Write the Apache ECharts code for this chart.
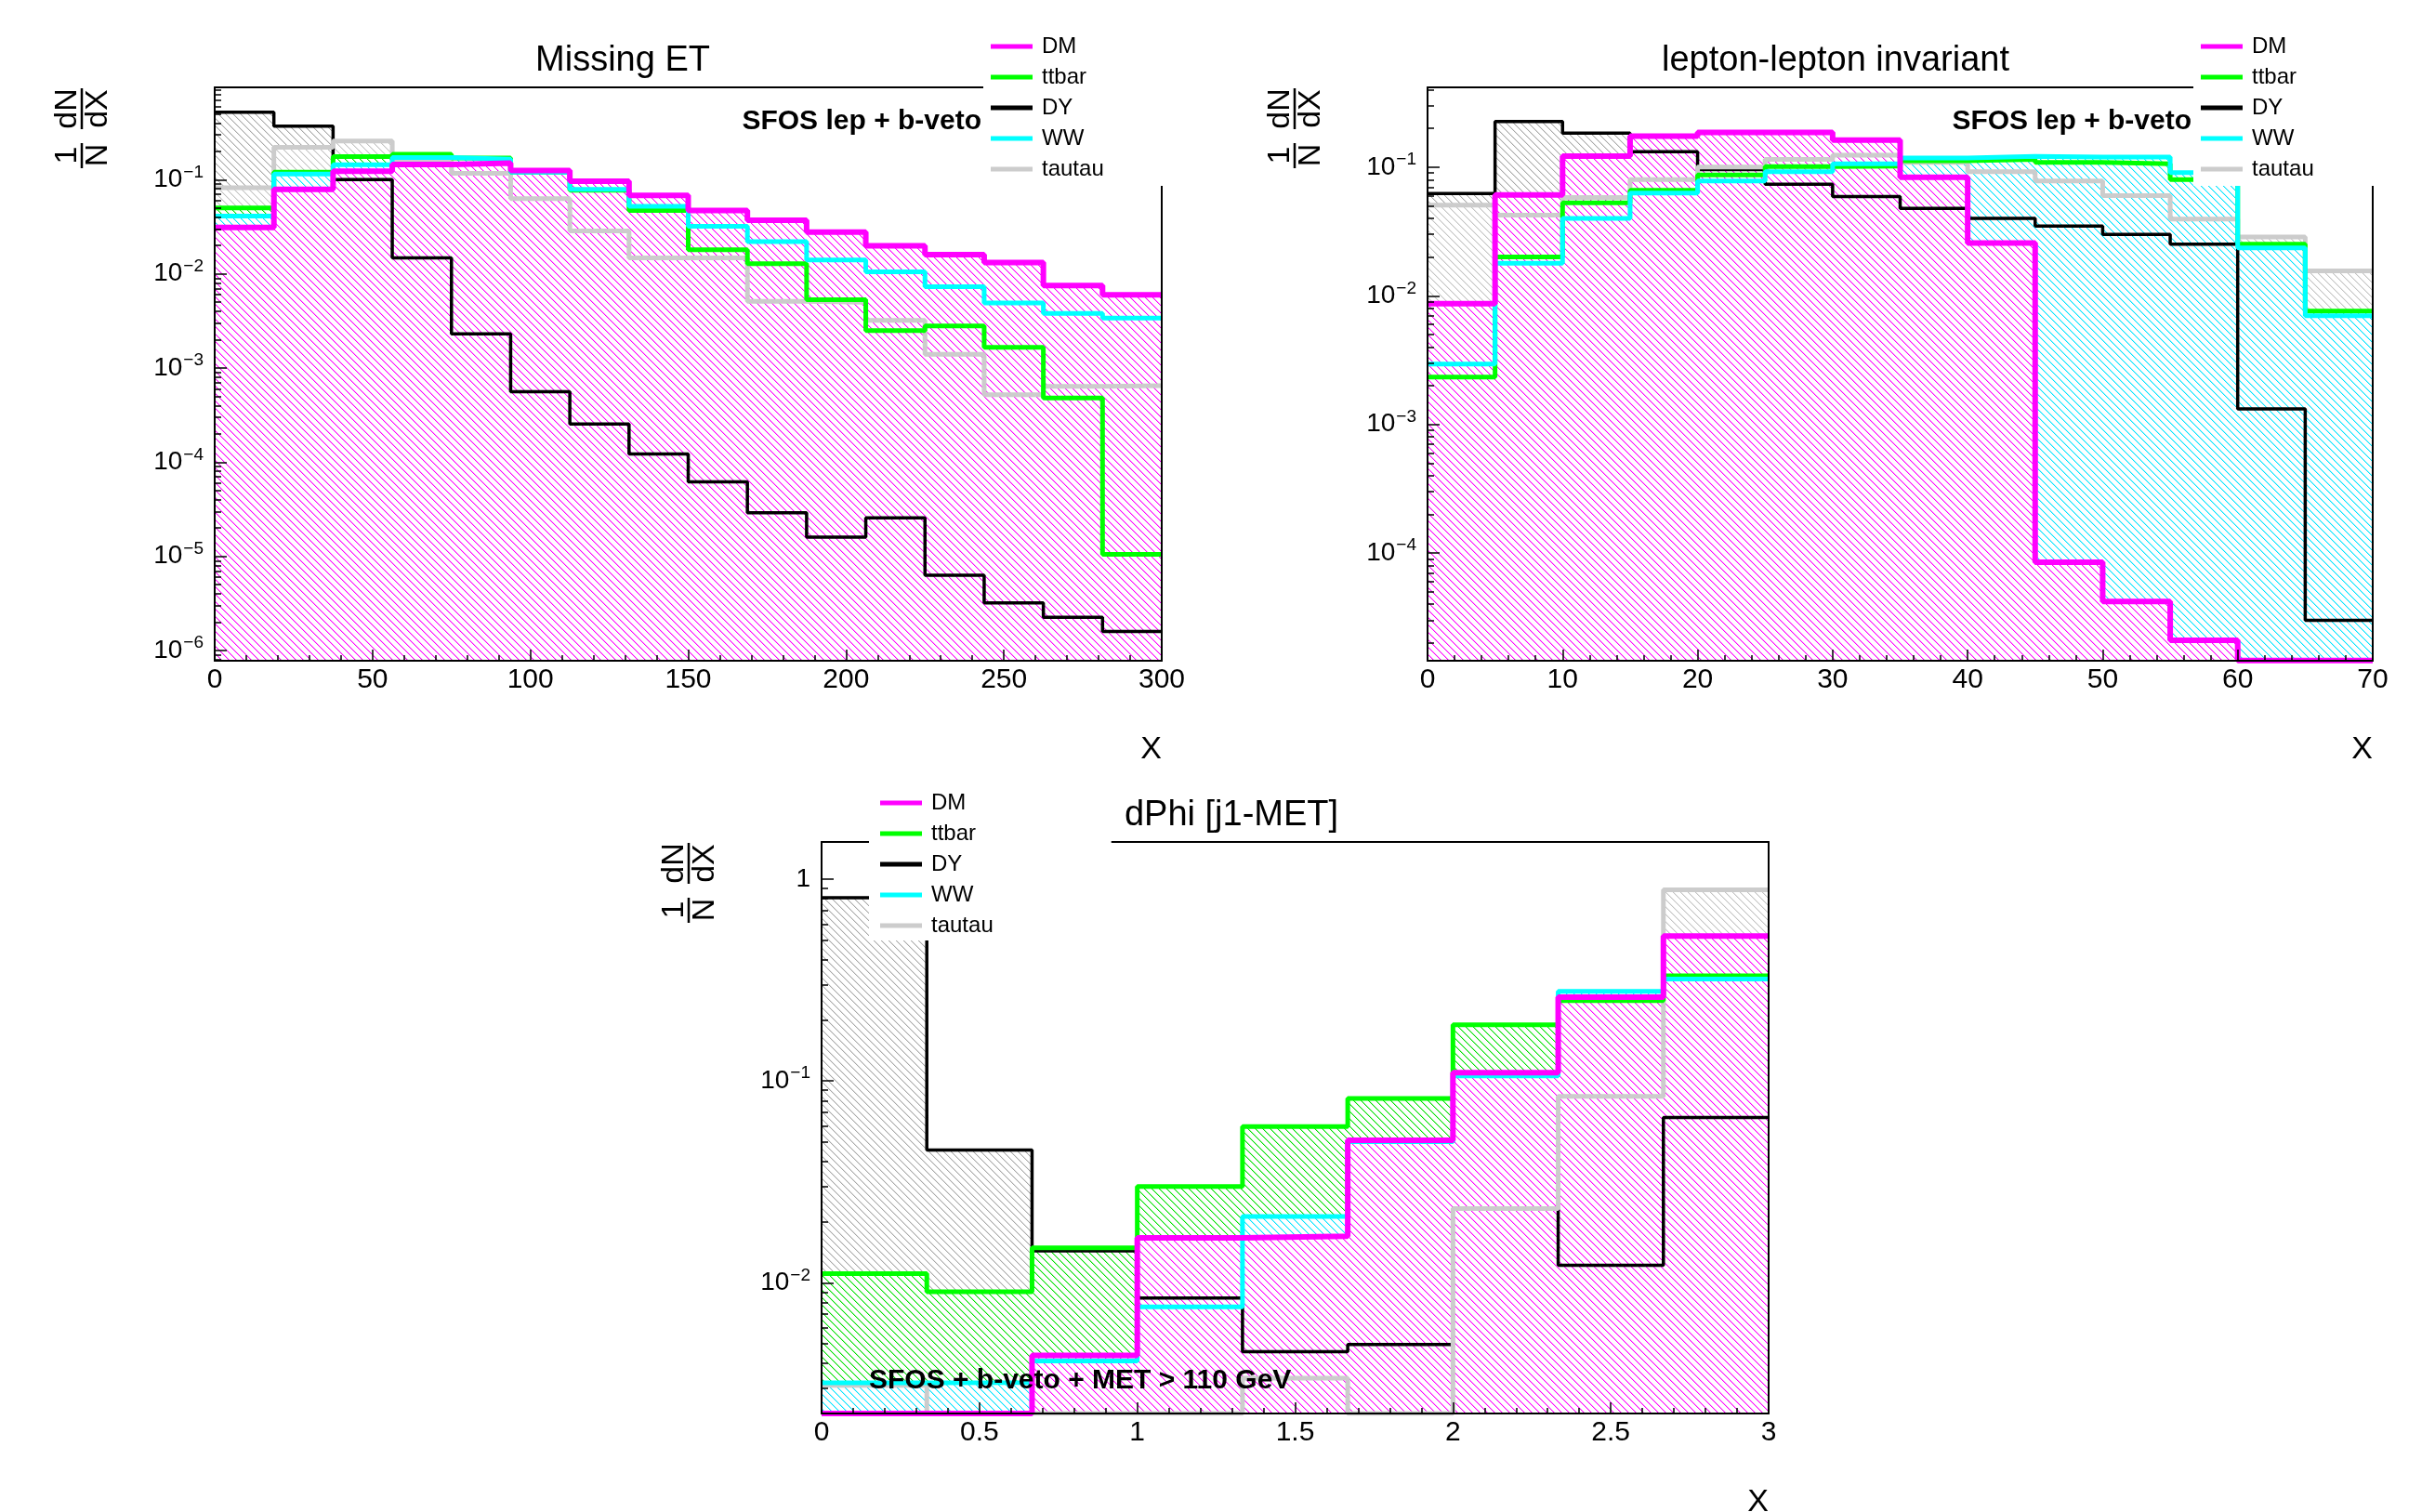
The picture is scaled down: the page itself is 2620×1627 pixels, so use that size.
<!DOCTYPE html>
<html>
<head>
<meta charset="utf-8">
<script src="https://cdn.jsdelivr.net/npm/echarts@6/dist/echarts.min.js"></script>
<style>
html, body { margin: 0; padding: 0; background: #fff; }
#chart-container { width: 2620px; height: 1627px; }
</style>
</head>
<body>
<div id="chart-container"></div>
<script>
let FONT = '"Liberation Sans", Arial, Helvetica, sans-serif';

// binning: [low, high, nbins]
let metBins = [0, 300, 16];
let mllBins = [0, 70, 14];
let dphiBins = [0, 3, 9];

// Missing ET
let metDM = [0.031, 0.079, 0.123, 0.145, 0.15, 0.125, 0.096, 0.068, 0.047, 0.037, 0.0277, 0.0198, 0.016, 0.0132, 0.0075, 0.006];
let metTtbar = [0.05, 0.12, 0.176, 0.186, 0.17, 0.12, 0.077, 0.047, 0.018, 0.0128, 0.0053, 0.0025, 0.0028, 0.00166, 0.00048, 1.05e-5];
let metDY = [0.52, 0.37, 0.1, 0.0148, 0.0023, 0.00056, 0.000255, 0.000122, 6.2e-5, 2.9e-5, 1.6e-5, 2.56e-5, 6.3e-6, 3.2e-6, 2.25e-6, 1.6e-6];
let metWW = [0.041, 0.115, 0.144, 0.172, 0.165, 0.12, 0.079, 0.052, 0.032, 0.022, 0.014, 0.0105, 0.0073, 0.0049, 0.0038, 0.0034];
let metTautau = [0.082, 0.22, 0.257, 0.16, 0.117, 0.063, 0.0285, 0.0148, 0.0148, 0.0051, 0.005, 0.0032, 0.0014, 0.00052, 0.00064, 0.00065];

// lepton-lepton invariant
let mllDM = [0.0087, 0.0607, 0.1216, 0.174, 0.186, 0.186, 0.162, 0.0833, 0.0257, 8.5e-5, 4.2e-5, 2.1e-5, 1.46e-5, 1.46e-5];
let mllTtbar = [0.00233, 0.02, 0.0528, 0.066, 0.087, 0.101, 0.102, 0.112, 0.115, 0.109, 0.106, 0.08, 0.0252, 0.0076];
let mllDY = [0.0624, 0.226, 0.184, 0.132, 0.0957, 0.0736, 0.059, 0.0478, 0.04, 0.0348, 0.03, 0.0252, 0.00132, 3.0e-5];
let mllWW = [0.00295, 0.0179, 0.04, 0.063, 0.078, 0.092, 0.106, 0.118, 0.1215, 0.12, 0.12, 0.0905, 0.0236, 0.007];
let mllTautau = [0.0506, 0.0423, 0.058, 0.08, 0.1, 0.115, 0.124, 0.109, 0.092, 0.078, 0.06, 0.0394, 0.0287, 0.0156];

// dPhi [j1-MET]
let dphiDM = [0.00225, 0.00225, 0.00436, 0.0167, 0.017, 0.0508, 0.11, 0.26, 0.523];
let dphiTtbar = [0.0111, 0.00903, 0.0149, 0.03, 0.0594, 0.082, 0.19, 0.25, 0.332];
let dphiDY = [0.81, 0.0455, 0.0144, 0.0084, 0.00456, 0.00494, 0.0233, 0.0122, 0.066];
let dphiWW = [0.00319, 0.0032, 0.0041, 0.0076, 0.0213, 0.05, 0.106, 0.278, 0.32];
let dphiTautau = [0.0031, 0.00225, 0.00225, 0.00225, 0.00337, 0.00225, 0.0233, 0.084, 0.887];

// axis ranges and major ticks
let metY = [7.8e-7, 0.955];
let mllY = [1.456e-5, 0.417];
let dphiY = [0.00225, 1.53];
let metXTicks = 50;
let mllXTicks = 10;
let dphiXTicks = 0.5;
let metYTicks = [1e-6, 1e-5, 1e-4, 1e-3, 1e-2, 1e-1];
let mllYTicks = [1e-4, 1e-3, 1e-2, 1e-1];
let dphiYTicks = [1e-2, 1e-1, 1];

let titles = ['Missing ET', 'lepton-lepton invariant', 'dPhi [j1-MET]'];
let cutLabels = ['SFOS lep + b-veto', 'SFOS lep + b-veto', 'SFOS + b-veto + MET > 110 GeV'];

let drawOrder = ['DY', 'tautau', 'ttbar', 'WW', 'DM'];
let legendOrder = ['DM', 'ttbar', 'DY', 'WW', 'tautau'];
let lineColors = { DM: '#ff00ff', ttbar: '#00ff00', DY: '#000000', WW: '#00ffff', tautau: '#cccccc' };
// [core pixel, soft neighbour pixel]
let hatchColors = {
    DM: ['#ff00ff', '#ffa6ff'],
    ttbar: ['#00e000', '#a6f5a6'],
    DY: ['#a8a8a8', '#e2e2e2'],
    WW: ['#00e5ff', '#a6f3ff'],
    tautau: ['#c4c4c4', '#e8e8e8'],
};
let lineWidths = { DM: 6, ttbar: 5, DY: 3.5, WW: 5, tautau: 5 };

let panels = [
    { bins: metBins, y: metY, xStep: metXTicks, yTicks: metYTicks,
      h: { DM: metDM, ttbar: metTtbar, DY: metDY, WW: metWW, tautau: metTautau } },
    { bins: mllBins, y: mllY, xStep: mllXTicks, yTicks: mllYTicks,
      h: { DM: mllDM, ttbar: mllTtbar, DY: mllDY, WW: mllWW, tautau: mllTautau } },
    { bins: dphiBins, y: dphiY, xStep: dphiXTicks, yTicks: dphiYTicks,
      h: { DM: dphiDM, ttbar: dphiTtbar, DY: dphiDY, WW: dphiWW, tautau: dphiTautau } },
];

// layout (pixels)
let frames = [
    { left: 231, top: 94, width: 1019, height: 617 },
    { left: 1536, top: 94, width: 1017, height: 617 },
    { left: 884, top: 906, width: 1019, height: 615 },
];
let titlePos = [[670, 66], [1975, 66], [1325, 878]];
let cutPos = [[1056, 131, 'right'], [2358, 131, 'right'], [935, 1486, 'left']];
let legendBox = [
    { left: 1058, top: 32, padding: [6, 70, 6, 8] },
    { left: 2360, top: 32, padding: [6, 70, 6, 8] },
    { left: 935, top: 846, padding: [6, 127, 4, 12] },
];

// crisp diagonal hatch tile, same grid for every colour so they overlay exactly
function hatch(cols) {
    let s = 8;
    let c = document.createElement('canvas');
    c.width = s;
    c.height = s;
    let ctx = c.getContext('2d');
    for (let k = 0; k < s; k++) {
        ctx.fillStyle = cols[0];
        ctx.fillRect(k, k, 1, 1);
        ctx.fillStyle = cols[1];
        ctx.fillRect((k + 1) % s, k, 1, 1);
    }
    return { image: c, repeat: 'repeat' };
}

// histogram -> step points (left edges + closing right edge)
function steps(bins, vals) {
    let w = (bins[1] - bins[0]) / bins[2];
    let pts = vals.map((v, i) => [bins[0] + i * w, v]);
    pts.push([bins[1], vals[vals.length - 1]]);
    return pts;
}

function minorTicks(range) {
    let out = [];
    for (let d = Math.floor(Math.log10(range[0])); d <= Math.ceil(Math.log10(range[1])); d++) {
        for (let k = 2; k <= 9; k++) {
            let v = k * Math.pow(10, d);
            if (v > range[0] && v < range[1]) out.push(v);
        }
    }
    return out;
}

function logLabel(v) {
    let e = Math.round(Math.log10(v));
    if (e === 0) return '{b|1}';
    return '{b|10}{s|' + (e < 0 ? '\u2212' + (-e) : e) + '}';
}

let black = { color: '#000', width: 2 };
let grids = [], xAxes = [], yAxes = [], series = [], legends = [], graphics = [];

panels.forEach((p, i) => {
    grids.push(Object.assign({ outerBoundsMode: 'none', containLabel: false }, frames[i]));
    xAxes.push({
        gridIndex: i, type: 'value', min: p.bins[0], max: p.bins[1], interval: p.xStep,
        position: 'bottom', z: 5,
        axisLine: { show: true, onZero: false, lineStyle: black },
        axisTick: { show: true, inside: true, length: 12, lineStyle: { color: '#000', width: 1.5 } },
        minorTick: { show: true, splitNumber: 5, length: 6, lineStyle: { color: '#000', width: 1.5 } },
        axisLabel: { color: '#000', fontSize: 30, fontFamily: FONT, margin: 6 },
        splitLine: { show: false }, minorSplitLine: { show: false },
    });
    xAxes.push({
        gridIndex: i, type: 'value', min: p.bins[0], max: p.bins[1], position: 'top', z: 5,
        axisLine: { show: true, onZero: false, lineStyle: black },
        axisTick: { show: false }, axisLabel: { show: false }, splitLine: { show: false },
    });
    yAxes.push({
        gridIndex: i, type: 'log', logBase: 10, min: p.y[0], max: p.y[1], position: 'left', z: 5,
        axisLine: { show: true, onZero: false, lineStyle: black },
        axisTick: { show: true, inside: true, length: 13, customValues: p.yTicks, lineStyle: { color: '#000', width: 1.5 } },
        axisLabel: {
            customValues: p.yTicks, formatter: logLabel, margin: 12, color: '#000',
            rich: {
                b: { fontSize: 28, fontFamily: FONT, color: '#000' },
                s: { fontSize: 19, fontFamily: FONT, color: '#000', padding: [0, 0, 16, 1] },
            },
        },
        splitLine: { show: false },
    });
    yAxes.push({
        gridIndex: i, type: 'log', logBase: 10, min: p.y[0], max: p.y[1], position: 'left', z: 5,
        axisLine: { show: false, onZero: false },
        axisTick: { show: true, inside: true, length: 7, customValues: minorTicks(p.y), lineStyle: { color: '#000', width: 1.5 } },
        axisLabel: { show: false }, splitLine: { show: false },
    });
    yAxes.push({
        gridIndex: i, type: 'log', logBase: 10, min: p.y[0], max: p.y[1], position: 'right', z: 5,
        axisLine: { show: true, onZero: false, lineStyle: black },
        axisTick: { show: false }, axisLabel: { show: false }, splitLine: { show: false },
    });

    drawOrder.forEach((name) => {
        series.push({
            type: 'line', name: name, xAxisIndex: i * 2, yAxisIndex: i * 3,
            data: steps(p.bins, p.h[name]), step: 'end',
            symbol: 'none', showSymbol: false, silent: true, z: 2,
            color: lineColors[name],
            itemStyle: { color: lineColors[name] },
            lineStyle: { color: lineColors[name], width: lineWidths[name] },
            areaStyle: { color: hatch(hatchColors[name]), opacity: 1, origin: 'start' },
            emphasis: { disabled: true },
        });
    });

    legends.push({
        data: legendOrder, orient: 'vertical', left: legendBox[i].left, top: legendBox[i].top,
        padding: legendBox[i].padding, backgroundColor: '#fff', z: 10,
        icon: 'rect', itemWidth: 45, itemHeight: 5, itemGap: 9, selectedMode: false,
        itemStyle: { borderWidth: 0 },
        textStyle: { color: '#000', fontSize: 24, fontFamily: FONT, lineHeight: 24, padding: [0, 0, 0, 5] },
    });

    let f = frames[i];
    graphics.push({
        type: 'text', x: titlePos[i][0], y: titlePos[i][1], z: 20,
        style: { text: titles[i], fontSize: 38, fontFamily: FONT, fill: '#000',
                 textAlign: 'center', align: 'center', textVerticalAlign: 'middle', verticalAlign: 'middle' },
    });
    graphics.push({
        type: 'text', x: cutPos[i][0], y: cutPos[i][1], z: 20,
        style: { text: cutLabels[i], fontSize: 30, fontWeight: 'bold', fontFamily: FONT, fill: '#000',
                 textAlign: cutPos[i][2], align: cutPos[i][2], textVerticalAlign: 'middle', verticalAlign: 'middle' },
    });
    graphics.push({
        type: 'text', x: f.left + f.width, y: f.top + f.height + 96, z: 20,
        style: { text: 'X', fontSize: 34, fontFamily: FONT, fill: '#000',
                 textAlign: 'right', align: 'right', textVerticalAlign: 'middle', verticalAlign: 'middle' },
    });
    // 1/N dN/dX, rotated
    let fr = { fontSize: 34, fontFamily: FONT, fill: '#000', textAlign: 'center', align: 'center',
               textVerticalAlign: 'middle', verticalAlign: 'middle' };
    graphics.push({
        type: 'group', x: f.left - 143, y: f.top + 48, rotation: Math.PI / 2, z: 20,
        children: [
            { type: 'text', x: -25, y: -15, z: 20, style: Object.assign({ text: '1' }, fr) },
            { type: 'text', x: -25, y: 18, z: 20, style: Object.assign({ text: 'N' }, fr) },
            { type: 'line', z: 20, shape: { x1: -39, y1: 0, x2: -12, y2: 0 }, style: { stroke: '#000', lineWidth: 2.5 } },
            { type: 'text', x: 25, y: -15, z: 20, style: Object.assign({ text: 'dN' }, fr) },
            { type: 'text', x: 25, y: 18, z: 20, style: Object.assign({ text: 'dX' }, fr) },
            { type: 'line', z: 20, shape: { x1: 3, y1: 0, x2: 47, y2: 0 }, style: { stroke: '#000', lineWidth: 2.5 } },
        ],
    });
});

let dom = document.getElementById('chart-container');
let myChart = echarts.init(dom, null, { renderer: 'canvas', useDirtyRect: false });
let option = {
    animation: false,
    backgroundColor: '#fff',
    grid: grids,
    xAxis: xAxes,
    yAxis: yAxes,
    legend: legends,
    series: series,
    graphic: { elements: graphics },
};
myChart.setOption(option);
window.addEventListener('resize', myChart.resize);
</script>
</body>
</html>
